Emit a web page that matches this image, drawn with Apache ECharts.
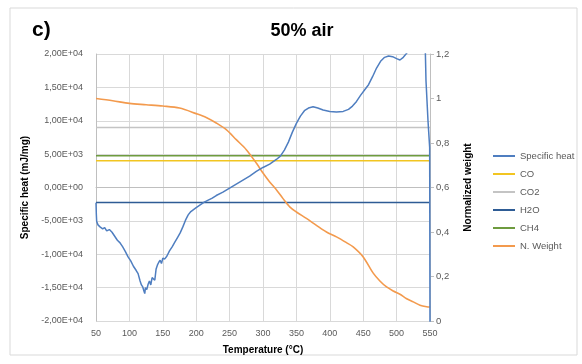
<!DOCTYPE html>
<html>
<head>
<meta charset="utf-8">
<script src="https://cdn.jsdelivr.net/npm/echarts@6/dist/echarts.min.js"></script>
<style>
  html, body { margin: 0; padding: 0; background: #fff; }
  #main { width: 582px; height: 364px; }
</style>
</head>
<body>
<div id="main"></div>
<script>
// specific heat (mJ/mg) vs temperature
var heatTemp = [50, 50.5, 51, 53, 56, 60, 63, 66, 70, 74, 78, 82, 86, 90, 94, 98, 102, 106, 110, 113,
    116, 118, 120, 122, 123, 124, 126, 128, 130, 132, 134, 136, 138, 140, 142, 144, 146, 148, 150, 153,
    156, 160, 164, 168, 172, 176, 180, 184, 188, 192, 196, 200, 206, 212, 218, 224, 230, 240, 250, 260,
    270, 280, 290, 300, 310, 320, 326, 332, 338, 344, 350, 356, 362, 368, 375, 382, 390, 400, 410, 420,
    428, 434, 440, 446, 452, 458, 464, 470, 476, 482, 488, 494, 500, 505, 510, 515, 520, 530, 540, 543,
    544, 547, 549.5, 550];
var heatVal = [-2300, -4000, -5100, -5600, -5900, -6200, -6000, -6500, -6300, -6700, -7300, -7900, -8300, -8900, -9600, -10400, -11000, -11800, -12400, -12900,
    -14000, -14600, -14900, -15600, -15900, -15000, -15300, -14500, -14000, -14600, -13500, -13300, -13900, -12200, -11600, -11200, -10900, -11400, -10600, -10700,
    -10300, -9500, -8900, -8200, -7500, -6800, -5900, -4900, -4100, -3600, -3300, -3000, -2600, -2200, -1900, -1600, -1200, -700, -100, 500,
    1100, 1700, 2400, 3000, 3500, 4200, 4700, 5600, 6800, 8300, 9600, 10700, 11500, 11900, 12100, 11900, 11600, 11400, 11300, 11400,
    11700, 12200, 12900, 13800, 14600, 15400, 16600, 17900, 18900, 19500, 19700, 19600, 19300, 19100, 19500, 20100, 21000, 22000, 22000, 20500,
    16000, 10000, 6000, -21000];

// normalized weight vs temperature
var weightTemp = [50, 75, 100, 125, 150, 175, 200, 215, 230, 245, 260, 275, 290, 300, 310, 320, 330, 340, 350, 365,
    380, 395, 410, 425, 435, 450, 465, 475, 485, 495, 505, 515, 525, 535, 545, 550];
var weightVal = [1.0, 0.99, 0.978, 0.972, 0.966, 0.957, 0.932, 0.915, 0.89, 0.86, 0.815, 0.77, 0.71, 0.665, 0.625, 0.59, 0.55, 0.513, 0.49, 0.461,
    0.43, 0.40, 0.378, 0.352, 0.333, 0.288, 0.215, 0.18, 0.153, 0.135, 0.12, 0.10, 0.086, 0.071, 0.064, 0.063];

// constant gas levels (left axis)
var gasNames = ['CO', 'CO2', 'H2O', 'CH4'];
var gasVals = [4000, 9000, -2250, 4750];
var gasColors = ['#F2C521', '#C4C4C4', '#2E5C95', '#6E9B3F'];

var tempRange = [50, 550];

function pairs(xs, ys) {
    var out = [];
    for (var i = 0; i < xs.length; i++) out.push([xs[i], ys[i]]);
    return out;
}

function sciFmt(v) {
    if (v === 0) return '0,00E+00';
    var s = v.toExponential(2); // e.g. 2.00e+4
    var parts = s.split('e');
    var exp = parseInt(parts[1], 10);
    var sign = exp < 0 ? '-' : '+';
    var e = Math.abs(exp);
    return parts[0].replace('.', ',') + 'E' + sign + (e < 10 ? '0' + e : e);
}

var labelColor = '#595959';
var font = 'Liberation Sans';

var series = [{
    name: 'Specific heat',
    type: 'line',
    data: pairs(heatTemp, heatVal),
    symbol: 'none',
    lineStyle: { color: '#4F7EC0', width: 1.5 },
    itemStyle: { color: '#4F7EC0' },
    z: 5
}];
for (var g = 0; g < gasNames.length; g++) {
    series.push({
        name: gasNames[g],
        type: 'line',
        data: pairs(tempRange, [gasVals[g], gasVals[g]]),
        symbol: 'none',
        lineStyle: { color: gasColors[g], width: 1.6 },
        itemStyle: { color: gasColors[g] },
        z: 3
    });
}
series.push({
    name: 'N. Weight',
    type: 'line',
    yAxisIndex: 1,
    data: pairs(weightTemp, weightVal),
    symbol: 'none',
    smooth: 0.3,
    lineStyle: { color: '#F39A4D', width: 1.6 },
    itemStyle: { color: '#F39A4D' },
    z: 4
});

var myChart = echarts.init(document.getElementById('main'));
var option = {
    animation: false,
    textStyle: { fontFamily: font },
    graphic: [
        {
            type: 'rect',
            shape: { x: 10, y: 8, width: 567, height: 347 },
            style: { fill: 'none', stroke: '#D9D9D9', lineWidth: 1 }
        },
        {
            type: 'text',
            left: 32, top: 20,
            style: { text: 'c)', font: 'bold 21px "Liberation Sans"', fill: '#000' }
        },
        {
            type: 'text',
            x: 302, y: 31,
            style: {
                text: '50% air', font: 'bold 18px "Liberation Sans"', fill: '#000',
                align: 'center', verticalAlign: 'middle'
            }
        }
    ],
    legend: {
        orient: 'vertical',
        left: 493, top: 151,
        padding: 0,
        icon: 'rect',
        itemWidth: 22, itemHeight: 2, itemGap: 8,
        textStyle: { fontSize: 9.5, color: labelColor, fontFamily: font },
        data: ['Specific heat', 'CO', 'CO2', 'H2O', 'CH4', 'N. Weight']
    },
    grid: { left: 96, right: 152, top: 54, bottom: 43 },
    xAxis: {
        type: 'value',
        min: 50, max: 550, interval: 50,
        name: 'Temperature (°C)',
        nameLocation: 'middle',
        nameGap: 24,
        nameTextStyle: { fontSize: 10, fontWeight: 'bold', color: '#000' },
        axisLine: { lineStyle: { color: '#BFBFBF' } },
        axisTick: { show: false },
        axisLabel: { fontSize: 9, color: labelColor, margin: 8 },
        splitLine: { lineStyle: { color: '#D9D9D9' } }
    },
    yAxis: [
        {
            type: 'value',
            min: -20000, max: 20000, interval: 5000,
            name: 'Specific heat (mJ/mg)',
            nameLocation: 'middle',
            nameRotate: 90,
            nameGap: 57,
            nameTextStyle: { fontSize: 10, fontWeight: 'bold', color: '#000' },
            axisLine: { show: true, lineStyle: { color: '#BFBFBF' } },
            axisTick: { show: false },
            axisLabel: { fontSize: 9, color: labelColor, margin: 13, formatter: sciFmt },
            splitLine: { lineStyle: { color: '#D9D9D9' } }
        },
        {
            type: 'value',
            min: 0, max: 1.2, interval: 0.2,
            position: 'right',
            name: 'Normalized weight',
            nameLocation: 'middle',
            nameRotate: 90,
            nameGap: 33,
            nameTextStyle: { fontSize: 10, fontWeight: 'bold', color: '#000' },
            axisLine: { show: true, lineStyle: { color: '#BFBFBF' } },
            axisTick: { show: true, inside: false, length: 4, lineStyle: { color: '#BFBFBF' } },
            axisLabel: {
                fontSize: 9.5, color: labelColor, margin: 6,
                formatter: function (v) { return String(Math.round(v * 10) / 10).replace('.', ','); }
            },
            splitLine: { show: false }
        }
    ],
    series: series
};
myChart.setOption(option);
</script>
</body>
</html>
